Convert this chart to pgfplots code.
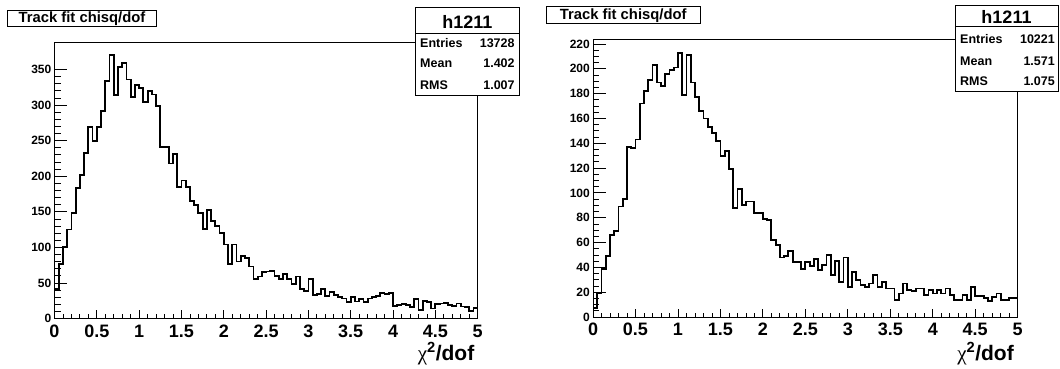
\documentclass[border=0pt]{standalone}
\usepackage{pgfplots}
\pgfplotsset{compat=1.18}
\usepackage{fontspec}
\setmainfont{Liberation Sans}
\newfontfamily\symfont{Liberation Serif}

\pgfplotsset{
  rootbase/.style={scale only axis, anchor=south west, xmin=0, xmax=5, ymin=0,
    tick align=inside, tick pos=left,
    tick style={black, line width=0.8pt}},
  rootA/.style={rootbase, xtick=\empty, major tick length=12.7pt, minor tick length=6.35pt,
    axis line style={black, line width=0.9pt},
    yticklabel style={font=\fontsize{12}{12}\selectfont\bfseries, inner sep=0pt, xshift=-3pt}},
  rootB/.style={rootbase, ytick=\empty, axis line style={draw=none},
    major tick length=8.3pt, minor tick length=4.15pt,
    xtick={0,0.5,1,1.5,2,2.5,3,3.5,4,4.5,5},
    xticklabels={0,0.5,1,1.5,2,2.5,3,3.5,4,4.5,5},
    minor x tick num=4,
    xticklabel style={font=\fontsize{18}{18}\selectfont\bfseries, inner sep=0pt, yshift=-6pt}},
  hist/.style={const plot, black, line width=1.8pt, line join=miter, mark=none}
}

\begin{document}
\begin{tikzpicture}[x=1pt,y=1pt]
\useasboundingbox (0,0) rectangle (1060,-369);
\fill[white] (0,0) rectangle (1060,-369);

% ---------- left panel ----------
\begin{axis}[rootA, at={(54.5pt,-318.5pt)}, width=423.2pt, height=276pt, ymax=388,
  ytick={0,50,100,150,200,250,300,350}, yticklabels={0,50,100,150,200,250,300,350},
  minor y tick num=4]
\addplot[hist] coordinates {
(0,0)(0,42)(0.05,77)(0.1,100)(0.15,125)(0.2,148)(0.25,183)(0.3,202)(0.35,233)(0.4,269)(0.45,250)
(0.5,269)(0.55,292)(0.6,334)(0.65,370)(0.7,314)(0.75,354)(0.8,359)(0.85,336)(0.9,311)(0.95,328)
(1,324)(1.05,304)(1.1,320)(1.15,315)(1.2,299)(1.25,241)(1.3,241)(1.35,218)(1.4,231)(1.45,185)
(1.5,194)(1.55,185)(1.6,165)(1.65,159)(1.7,148)(1.75,126)(1.8,153)(1.85,137)(1.9,130)(1.95,120)
(2,104)(2.05,77)(2.1,104)(2.15,80)(2.2,88)(2.25,85)(2.3,73)(2.35,55)(2.4,59)(2.45,65)
(2.5,66)(2.55,67)(2.6,60)(2.65,56)(2.7,63)(2.75,56)(2.8,48)(2.85,59)(2.9,42)(2.95,39)
(3,55)(3.05,33)(3.1,35)(3.15,41)(3.2,32)(3.25,37)(3.3,33)(3.35,30)(3.4,28)(3.45,23)
(3.5,30)(3.55,24)(3.6,27)(3.65,23)(3.7,28)(3.75,30)(3.8,32)(3.85,36)(3.9,35)(3.95,36)
(4,18)(4.05,19)(4.1,20)(4.15,19)(4.2,16)(4.25,27)(4.3,12)(4.35,25)(4.4,23)(4.45,14)
(4.5,20)(4.55,21)(4.6,22)(4.65,19)(4.7,18)(4.75,21)(4.8,17)(4.85,16)(4.9,11)(4.95,15)
(5,15)(5,0)};
\end{axis}
\begin{axis}[rootB, at={(54.5pt,-318.5pt)}, width=423.2pt, height=276pt, ymax=388]
\end{axis}

% ---------- right panel ----------
\begin{axis}[rootA, at={(593pt,-317pt)}, width=424.7pt, height=277.5pt, ymax=223.6,
  ytick={0,20,40,60,80,100,120,140,160,180,200,220},
  yticklabels={0,20,40,60,80,100,120,140,160,180,200,220},
  minor y tick num=3]
\addplot[hist] coordinates {
(0,0)(0,7)(0.05,19)(0.1,39)(0.15,49)(0.2,66)(0.25,69)(0.3,89)(0.35,95)(0.4,137)(0.45,136)
(0.5,143)(0.55,172)(0.6,182)(0.65,191)(0.7,203)(0.75,189)(0.8,186)(0.85,196)(0.9,199)(0.95,201)
(1,213)(1.05,179)(1.1,211)(1.15,189)(1.2,177)(1.25,166)(1.3,160)(1.35,153)(1.4,148)(1.45,142)
(1.5,130)(1.55,134)(1.6,119)(1.65,88)(1.7,103)(1.75,90)(1.8,93)(1.85,93)(1.9,84)(1.95,84)
(2,79)(2.05,78)(2.1,62)(2.15,58)(2.2,48)(2.25,49)(2.3,53)(2.35,44)(2.4,44)(2.45,39)
(2.5,44)(2.55,41)(2.6,47)(2.65,38)(2.7,42)(2.75,50)(2.8,34)(2.85,45)(2.9,28)(2.95,48)
(3,24)(3.05,36)(3.1,30)(3.15,26)(3.2,24)(3.25,27)(3.3,34)(3.35,24)(3.4,28)(3.45,23)
(3.5,23)(3.55,14)(3.6,19)(3.65,27)(3.7,22)(3.75,21)(3.8,23)(3.85,23)(3.9,18)(3.95,22)
(4,19)(4.05,22)(4.1,19)(4.15,23)(4.2,18)(4.25,14)(4.3,14)(4.35,18)(4.4,14)(4.45,24)
(4.5,17)(4.55,17)(4.6,15)(4.65,13)(4.7,16)(4.75,19)(4.8,14)(4.85,14)(4.9,15)(4.95,15)
(5,15)(5,0)};
\end{axis}
\begin{axis}[rootB, at={(593pt,-317pt)}, width=424.7pt, height=277.5pt, ymax=223.6]
\end{axis}

% ---------- axis titles ----------
\node[anchor=base east, inner sep=0pt, font=\fontsize{21}{21}\selectfont\bfseries]
  at (474.5,-360) {{\symfont\mdseries χ}\textsuperscript{2}/dof};
\node[anchor=base east, inner sep=0pt, font=\fontsize{21}{21}\selectfont\bfseries]
  at (1014,-360) {{\symfont\mdseries χ}\textsuperscript{2}/dof};

% ---------- title boxes ----------
\draw[line width=0.8pt, fill=white] (7.3,-10) rectangle (156.7,-26.7);
\node[anchor=base, inner sep=0pt, font=\fontsize{14.8}{15}\selectfont\bfseries]
  at (82,-22.7) {Track fit chisq/dof};
\draw[line width=0.8pt, fill=white] (546.3,-6.7) rectangle (700,-23.3);
\node[anchor=base, inner sep=0pt, font=\fontsize{14.8}{15}\selectfont\bfseries]
  at (623.2,-19.3) {Track fit chisq/dof};

% ---------- stats boxes ----------
\draw[line width=0.8pt, fill=white] (415,-7.3) rectangle (519.6,-95);
\draw[line width=0.8pt] (415,-33.3) -- (519.6,-33.3);
\node[anchor=base, inner sep=0pt, font=\fontsize{18}{18}\selectfont\bfseries] at (467.3,-28.3) {h1211};
\begin{scope}[every node/.style={inner sep=0pt, font=\fontsize{12.5}{13}\selectfont\bfseries}]
\node[anchor=base west] at (420,-47.2) {Entries};
\node[anchor=base east] at (514.8,-47.2) {13728};
\node[anchor=base west] at (420,-67.8) {Mean};
\node[anchor=base east] at (514.8,-67.8) {1.402};
\node[anchor=base west] at (420,-89.8) {RMS};
\node[anchor=base east] at (514.8,-89.8) {1.007};
\end{scope}

\draw[line width=0.8pt, fill=white] (955,-5) rectangle (1058,-91.7);
\draw[line width=0.8pt] (955,-26) -- (1058,-26);
\node[anchor=base, inner sep=0pt, font=\fontsize{18}{18}\selectfont\bfseries] at (1006.5,-24) {h1211};
\begin{scope}[every node/.style={inner sep=0pt, font=\fontsize{12.5}{13}\selectfont\bfseries}]
\node[anchor=base west] at (960,-43.3) {Entries};
\node[anchor=base east] at (1055,-43.3) {10221};
\node[anchor=base west] at (960,-65.7) {Mean};
\node[anchor=base east] at (1055,-65.7) {1.571};
\node[anchor=base west] at (960,-85.7) {RMS};
\node[anchor=base east] at (1055,-85.7) {1.075};
\end{scope}
\end{tikzpicture}
\end{document}
